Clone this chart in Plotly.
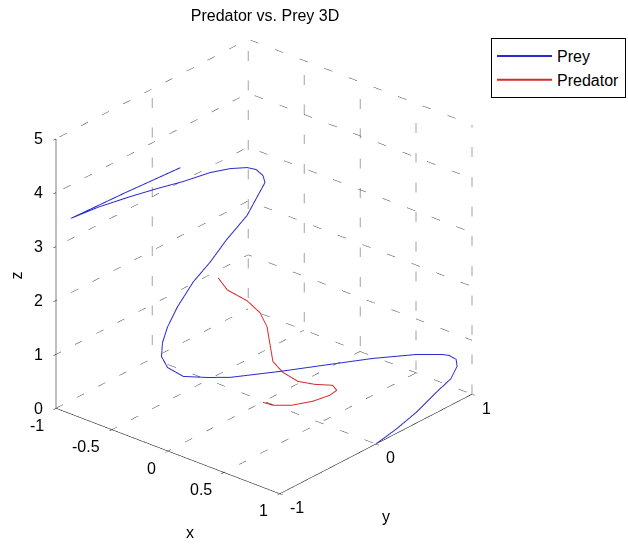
import plotly.graph_objects as go

# ---------------- data ----------------
prey_x = [1.0, 1.0, 1.0, 1.0, 1.0, 1.0, 0.974, 0.925, 0.88, 0.747, 0.561, 0.4, 0.214, 0.017,
          -0.1, -0.233, -0.323, -0.356, -0.355, -0.335, -0.296, -0.233, -0.166, -0.103, -0.021,
          0.022, 0.05, 0.028, -0.03, -0.09, -0.183, -0.273, -0.376, -0.52, -0.659, -0.827,
          -0.936, -0.697, -0.448]
prey_y = [0.0, 0.21, 0.42, 0.63, 0.78, 0.845, 0.865, 0.849, 0.829, 0.715, 0.475, 0.217, -0.083,
          -0.372, -0.474, -0.568, -0.628, -0.652, -0.643, -0.614, -0.556, -0.464, -0.366, -0.273,
          -0.152, -0.088, -0.048, -0.043, -0.048, -0.071, -0.139, -0.242, -0.401, -0.503, -0.621,
          -0.767, -0.919, -0.628, -0.348]
prey_z = [0.0, 0.08, 0.2, 0.38, 0.49, 0.66, 0.75, 0.8, 0.8, 0.8, 0.8, 0.8, 0.8, 0.8,
          0.8, 0.8, 0.95, 1.15, 1.4, 1.68, 2.03, 2.46, 2.79, 3.16, 3.57,
          3.92, 4.14, 4.25, 4.32, 4.33, 4.3, 4.25, 4.15, 4.0, 3.85, 3.65,
          3.5, 3.9, 4.3]

pred_x = [-0.336, -0.278, -0.175, -0.097, -0.029, 0.03, 0.106, 0.185, 0.271, 0.334, 0.398,
          0.442, 0.439, 0.401, 0.327, 0.225, 0.139]
pred_y = [-0.085, -0.059, 0.028, 0.071, 0.065, 0.028, -0.031, -0.019, 0.037, 0.139, 0.251,
          0.242, 0.172, 0.041, -0.091, -0.169, -0.172]
pred_z = [2.1, 1.9, 1.7, 1.5, 1.3, 1.05, 0.85, 0.7, 0.55, 0.45, 0.38, 0.33, 0.3, 0.28,
          0.27, 0.26, 0.25]

x_ticks = [-1, -0.5, 0, 0.5, 1]
x_labels = ["-1", "-0.5", "0", "0.5", "1"]
y_ticks = [-1, 0, 1]
y_labels = ["-1", "0", "1"]
z_ticks = [0, 1, 2, 3, 4, 5]
z_labels = ["0", "1", "2", "3", "4", "5"]

x_min, x_max = x_ticks[0], x_ticks[-1]
y_min, y_max = y_ticks[0], y_ticks[-1]
z_min, z_max = z_ticks[0], z_ticks[-1]
x_mid, y_mid, z_mid = (x_min + x_max) / 2, (y_min + y_max) / 2, (z_min + z_max) / 2

# ---------------- grid (dotted, MATLAB style) ----------------
gx, gy, gz = [], [], []
def seg(p, q):
    gx.extend([p[0], q[0], None]); gy.extend([p[1], q[1], None]); gz.extend([p[2], q[2], None])

for xv in x_ticks[:-1]:                       # floor lines along y
    seg((xv, y_min, z_min), (xv, y_max, z_min))
for yv in y_ticks[1:]:                        # floor lines along x
    seg((x_min, yv, z_min), (x_max, yv, z_min))
for yv in y_ticks[1:]:                        # left wall verticals
    seg((x_min, yv, z_min), (x_min, yv, z_max))
for xv in x_ticks[1:]:                        # right wall verticals
    seg((xv, y_max, z_min), (xv, y_max, z_max))
for zv in z_ticks[1:]:                        # wall horizontals
    seg((x_min, y_min, zv), (x_min, y_max, zv))
    seg((x_min, y_max, zv), (x_max, y_max, zv))

ax_x, ax_y, ax_z = [], [], []
def aseg(p, q):
    ax_x.extend([p[0], q[0], None]); ax_y.extend([p[1], q[1], None]); ax_z.extend([p[2], q[2], None])
aseg((x_min, y_min, z_min), (x_max, y_min, z_min))
aseg((x_max, y_min, z_min), (x_max, y_max, z_min))
aseg((x_min, y_min, z_min), (x_min, y_min, z_max))

fig = go.Figure()
fig.add_trace(go.Scatter3d(x=gx, y=gy, z=gz, mode="lines", showlegend=False, hoverinfo="skip",
                           line=dict(color="#444444", width=1, dash="dot")))
fig.add_trace(go.Scatter3d(x=ax_x, y=ax_y, z=ax_z, mode="lines", showlegend=False, hoverinfo="skip",
                           line=dict(color="black", width=1)))
fig.add_trace(go.Scatter3d(x=prey_x, y=prey_y, z=prey_z, mode="lines", name="Prey",
                           line=dict(color="#2a2ad0", width=2)))
fig.add_trace(go.Scatter3d(x=pred_x, y=pred_y, z=pred_z, mode="lines", name="Predator",
                           line=dict(color="#d42a2a", width=2)))

font = "Liberation Sans, Arial, sans-serif"
tfont = dict(size=16, color="black", family=font)

def axis(tv, rng):
    return dict(title=dict(text=""),
                range=rng, autorange=False, tickvals=tv, showticklabels=False,
                showgrid=False, showline=False, zeroline=False, showbackground=False,
                showspikes=False, ticks="outside", ticklen=4, tickcolor="black")

# tick labels and axis titles as scene annotations (anchored at data coordinates)
ann = []
for v, t in zip(x_ticks, x_labels):
    ann.append(dict(x=v, y=y_min, z=z_min, text=t, showarrow=False, xanchor="right",
                    yanchor="middle", xshift=-10, yshift=-17, font=tfont))
for v, t in zip(y_ticks, y_labels):
    ann.append(dict(x=x_max, y=v, z=z_min, text=t, showarrow=False, xanchor="left",
                    yanchor="middle", xshift=8, yshift=-14, font=tfont))
for v, t in zip(z_ticks, z_labels):
    ann.append(dict(x=x_min, y=y_min, z=v, text=t, showarrow=False, xanchor="right",
                    yanchor="middle", xshift=-11, yshift=0, font=tfont))
ann.append(dict(x=x_mid, y=y_min, z=z_min, text="x", showarrow=False, xshift=22, yshift=-81,
                font=tfont))
ann.append(dict(x=x_max, y=y_mid, z=z_min, text="y", showarrow=False, xshift=10, yshift=-73,
                font=tfont))
ann.append(dict(x=x_min, y=y_min, z=z_mid, text="z", showarrow=False, xshift=-39, yshift=-2,
                textangle=-90, font=tfont))

d = 2.0
eye = (0.5835 * d, -0.6796 * d, 0.445 * d)
k = 1.107
fig.update_layout(
    width=628, height=544,
    margin=dict(l=0, r=0, t=0, b=0),
    paper_bgcolor="white",
    title=dict(text="Predator vs. Prey 3D", x=265 / 628, y=1 - 15 / 544, xanchor="center",
               yanchor="middle", font=dict(size=16, color="black", family=font)),
    legend=dict(x=491 / 628, y=1 - 38 / 544, xanchor="left", yanchor="top",
                bordercolor="black", borderwidth=1, bgcolor="white", itemwidth=55,
                font=dict(size=16, color="black", family=font)),
    scene=dict(
        domain=dict(x=[0, 528 / 628], y=[11 / 544, 1]),
        xaxis=axis(x_ticks, [x_min, x_max]),
        yaxis=axis(y_ticks, [y_min, y_max]),
        zaxis=axis(z_ticks, [z_min, z_max]),
        aspectmode="manual", aspectratio=dict(x=1 * k, y=1 * k, z=1.02 * k),
        camera=dict(eye=dict(x=eye[0], y=eye[1], z=eye[2]), up=dict(x=0, y=0, z=1),
                    center=dict(x=0, y=0, z=0), projection=dict(type="orthographic")),
        bgcolor="white",
        annotations=ann,
    ),
)
fig.write_html("out.html")
